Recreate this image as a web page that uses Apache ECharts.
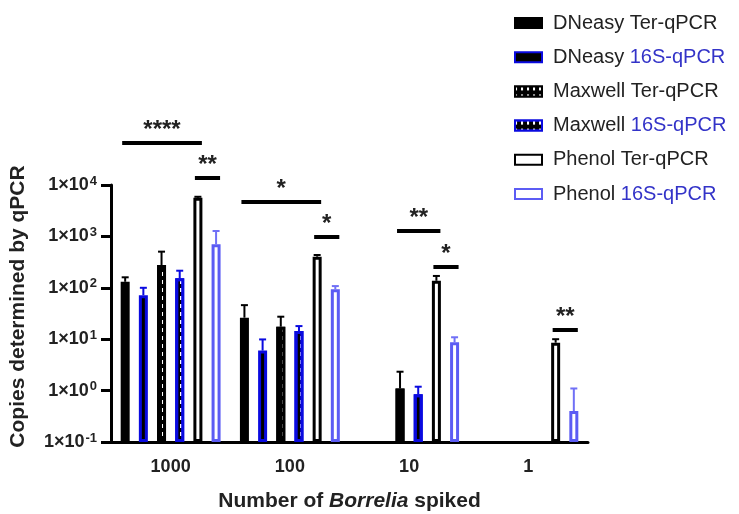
<!DOCTYPE html>
<html>
<head>
<meta charset="utf-8">
<script src="https://cdn.jsdelivr.net/npm/echarts@6/dist/echarts.min.js"></script>
<style>
html,body{margin:0;padding:0;background:#fff;}
#c{width:739px;height:514px;}
</style>
</head>
<body>
<div id="c"></div>
<script>
// ---- data ----
const categories = ['1000', '100', '10', '1'];
const seriesNames = ['DNeasy Ter-qPCR', 'DNeasy 16S-qPCR', 'Maxwell Ter-qPCR', 'Maxwell 16S-qPCR', 'Phenol Ter-qPCR', 'Phenol 16S-qPCR'];
const dneasyTer = [131, 26.2, null, null];
const dneasy16S = [72, 6.0, null, null];
const maxwellTer = [278, 17.5, 1.1, null];
const maxwell16S = [153, 14.4, 0.85, null];
const phenolTer = [5660, 403, 137, 8.55];
const phenol16S = [702, 93.5, 8.7, 0.40];
// upper ends of error bars
const dneasyTerErr = [160, 46, null, null];
const dneasy16SErr = [100, 9.9, null, null];
const maxwellTerErr = [505, 27.4, 2.33, null];
const maxwell16SErr = [215, 18, 1.19, null];
const phenolTerErr = [5900, 435, 170, 10];
const phenol16SErr = [1273, 108, 10.9, 1.1];
// significance brackets: [category index, from bar, to bar, height, label]
const brackets = [
  [0, 0, 4, 65600, '****'],
  [0, 4, 5, 13700, '**'],
  [1, 0, 4, 4670, '*'],
  [1, 4, 5, 973, '*'],
  [2, 2, 4, 1273, '**'],
  [2, 4, 5, 254, '*'],
  [3, 4, 5, 15.1, '**']
];
const yExponents = [-1, 0, 1, 2, 3, 4];

// ---- styles ----
const BLACK = '#000000';
const BLUE = '#0a0ae0';
const LIGHTBLUE = '#5c5cf4';
const BAR_W = 9;
const BAR_GAP = 1.02;
const STEP = BAR_W * (1 + BAR_GAP);
const Y_MIN = Math.pow(10, yExponents[0]);
const Y_MAX = Math.pow(10, yExponents[yExponents.length - 1]);

const values = [dneasyTer, dneasy16S, maxwellTer, maxwell16S, phenolTer, phenol16S];
const errs = [dneasyTerErr, dneasy16SErr, maxwellTerErr, maxwell16SErr, phenolTerErr, phenol16SErr];
const fills = [BLACK, BLACK, BLACK, BLACK, '#ffffff', '#ffffff'];
const borders = [BLACK, BLUE, BLACK, BLUE, BLACK, LIGHTBLUE];
const errColors = [BLACK, BLUE, BLACK, BLUE, BLACK, '#7070f6'];
const decals = [null, null, true, true, null, null];

function barOffset(i) { return (i - 2.5) * STEP; }

const series = [];
values.forEach((arr, i) => {
  // invisible base so that each bar grows from the axis minimum
  series.push({
    name: 'base' + i,
    type: 'bar',
    stack: 's' + i,
    barWidth: BAR_W,
    barGap: (BAR_GAP * 100) + '%',
    silent: true,
    data: arr.map(v => v == null ? '-' : Y_MIN),
    itemStyle: { color: 'rgba(0,0,0,0)', borderWidth: 0 },
    z: 1
  });
  const s = {
    name: seriesNames[i],
    type: 'bar',
    stack: 's' + i,
    barWidth: BAR_W,
    barGap: (BAR_GAP * 100) + '%',
    data: arr.map(v => v == null ? '-' : v - Y_MIN),
    itemStyle: { color: fills[i], borderColor: borders[i], borderWidth: 3 },
    z: 2
  };
  if (decals[i]) {
    s.itemStyle.decal = { symbol: 'rect', symbolSize: 1, dashArrayX: [2, 4], dashArrayY: [4, 4], color: '#ffffff', rotation: 0 };
  }
  series.push(s);
});

// error bars
const errData = [];
errs.forEach((arr, i) => {
  arr.forEach((e, c) => {
    if (e != null && values[i][c] != null) errData.push([c, values[i][c], e, i]);
  });
});
series.push({
  type: 'custom',
  name: 'err',
  clip: false,
  z: 3,
  data: errData,
  renderItem: function (params, api) {
    const c = api.value(0), v = api.value(1), e = api.value(2), i = api.value(3);
    const p0 = api.coord([c, v]);
    const p1 = api.coord([c, e]);
    const x = p0[0] + barOffset(i);
    const col = errColors[i];
    return {
      type: 'group',
      children: [
        { type: 'line', shape: { x1: x, y1: p0[1], x2: x, y2: p1[1] }, style: { stroke: col, lineWidth: 2 } },
        { type: 'line', shape: { x1: x - 3.5, y1: p1[1], x2: x + 3.5, y2: p1[1] }, style: { stroke: col, lineWidth: 2 } }
      ]
    };
  }
});

// significance brackets
series.push({
  type: 'custom',
  name: 'sig',
  clip: false,
  z: 4,
  data: brackets.map(b => [b[0], b[3], b[1], b[2]]),
  renderItem: function (params, api) {
    const c = api.value(0), h = api.value(1), f = api.value(2), t = api.value(3);
    const p = api.coord([c, h]);
    const x1 = p[0] + barOffset(f) - 3;
    const x2 = p[0] + barOffset(t) + 4;
    const label = brackets[params.dataIndex][4];
    return {
      type: 'group',
      children: [
        { type: 'line', shape: { x1: x1, y1: p[1], x2: x2, y2: p[1] }, style: { stroke: '#000', lineWidth: 4 } },
        { type: 'text', style: { text: label, x: (x1 + x2) / 2, y: p[1] - 1, align: 'center', verticalAlign: 'bottom', fontSize: 24, fontWeight: 'bold', fontFamily: 'Liberation Sans', fill: '#222' } }
      ]
    };
  }
});

const chart = echarts.init(document.getElementById('c'), null, { renderer: 'canvas' });
chart.setOption({
  backgroundColor: '#ffffff',
  animation: false,
  textStyle: { fontFamily: 'Liberation Sans' },
  legend: {
    data: seriesNames,
    icon: 'rect',
    orient: 'vertical',
    left: 509,
    top: 8,
    itemWidth: 27,
    itemHeight: 10,
    itemGap: 14.2,
    formatter: function (name) { return name.replace('16S-qPCR', '{b|16S-qPCR}'); },
    textStyle: {
      fontSize: 20, color: '#222', fontFamily: 'Liberation Sans',
      padding: [0, 0, 0, 6],
      rich: { b: { fontSize: 20, color: '#3333c8', fontFamily: 'Liberation Sans' } }
    }
  },
  grid: { left: 108, right: 151, top: 185, bottom: 72, containLabel: false },
  xAxis: {
    type: 'category',
    data: categories,
    axisLine: { lineStyle: { color: '#000', width: 3 } },
    axisTick: { alignWithLabel: true, length: 10, lineStyle: { color: '#000', width: 3 } },
    axisLabel: { fontSize: 18, fontWeight: 'bold', color: '#222', margin: 16 },
    name: 'Number of {i|Borrelia} spiked',
    nameLocation: 'middle',
    nameGap: 49,
    nameTextStyle: {
      fontSize: 21, fontWeight: 'bold', color: '#222',
      rich: { i: { fontSize: 21, fontWeight: 'bold', fontStyle: 'italic', color: '#222' } }
    }
  },
  yAxis: {
    type: 'log',
    logBase: 10,
    min: Y_MIN,
    max: Y_MAX,
    interval: 1,
    splitLine: { show: false },
    axisLine: { show: true, lineStyle: { color: '#000', width: 3 } },
    axisTick: { show: true, length: 10, lineStyle: { color: '#000', width: 3 } },
    axisLabel: {
      margin: 14,
      color: '#222',
      formatter: function (v) {
        const e = Math.round(Math.log10(v));
        return '{a|1×10}{s|' + (e < 0 ? '-' + (-e) : e) + '}';
      },
      rich: {
        a: { fontSize: 18, fontWeight: 'bold', color: '#222' },
        s: { fontSize: 13, fontWeight: 'bold', color: '#222', padding: [0, 0, 8, 1] }
      }
    },
    name: 'Copies determined by qPCR',
    nameLocation: 'middle',
    nameGap: 82,
    nameTextStyle: { fontSize: 21, fontWeight: 'bold', color: '#222', padding: [0, 0, 0, 14] }
  },
  series: series
});
</script>
</body>
</html>
